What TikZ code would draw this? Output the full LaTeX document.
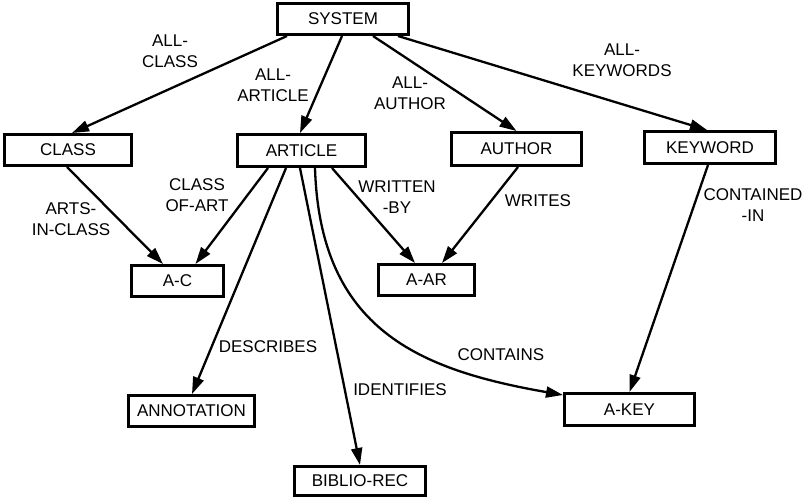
\documentclass[tikz,border=0pt]{standalone}
\usepackage{fontspec}
\setmainfont{Liberation Sans}
\usetikzlibrary{arrows.meta}
\begin{document}
\begin{tikzpicture}[x=1pt,y=-1pt,
  box/.style={draw,line width=3pt,inner sep=0pt,font=\fontsize{17}{21}\selectfont},
  lbl/.style={align=center,inner sep=0pt,font=\fontsize{17}{21}\selectfont},
  edge/.style={line width=2.3pt,-{Triangle[length=17pt,width=11pt]}}]
\useasboundingbox (0,0) rectangle (806,498);
% boxes
\node[box,minimum width=131pt,minimum height=31pt] (sys) at (343,19) {SYSTEM};
\node[box,minimum width=127pt,minimum height=31pt] (class) at (68,150) {CLASS};
\node[box,minimum width=128pt,minimum height=32pt] (article) at (301.5,150.5) {ARTICLE};
\node[box,minimum width=130pt,minimum height=33pt] (author) at (516.5,149) {AUTHOR};
\node[box,minimum width=131pt,minimum height=32pt] (keyword) at (710,147.5) {KEYWORD};
\node[box,minimum width=92pt,minimum height=31pt] (ac) at (177.5,281) {A-C};
\node[box,minimum width=96pt,minimum height=31pt] (aar) at (426.5,280) {A-AR};
\node[box,minimum width=126pt,minimum height=31pt] (annot) at (191.5,411) {ANNOTATION};
\node[box,minimum width=131pt,minimum height=29pt] (biblio) at (360,481) {BIBLIO-REC};
\node[box,minimum width=130pt,minimum height=32pt] (akey) at (629.5,409.5) {A-KEY};
% labels
\node[lbl] (lallclass) at (170,51.5) {ALL-\\CLASS};
\node[lbl] (lallarticle) at (273,85) {ALL-\\ARTICLE};
\node[lbl] (lallauthor) at (410,93.5) {ALL-\\AUTHOR};
\node[lbl] (lallkeywords) at (622,60) {ALL-\\KEYWORDS};
\node[lbl] (lclassofart) at (197,195.5) {CLASS\\OF-ART};
\node[lbl] (lartsinclass) at (71,219.5) {ARTS-\\IN-CLASS};
\node[lbl] (lwrittenby) at (397,197.5) {WRITTEN\\-BY};
\node[lbl] (lwrites) at (538,200.5) {WRITES};
\node[lbl] (lcontainedin) at (753,205.5) {CONTAINED\\-IN};
\node[lbl] (ldescribes) at (268,347) {DESCRIBES};
\node[lbl] (lidentifies) at (400,390) {IDENTIFIES};
\node[lbl] (lcontains) at (501,355) {CONTAINS};
% edges
\draw[edge] ([xshift=11pt]sys.south west) -- ([xshift=4pt]class.north);
\draw[edge] ([xshift=-1pt]sys.south) -- ([xshift=-1.5pt]article.north);
\draw[edge] ([xshift=30pt]sys.south) -- (author.north);
\draw[edge] ([xshift=-12pt]sys.south east) -- ([xshift=-3pt]keyword.north);
\draw[edge] ([xshift=-1pt]class.south) -- ([xshift=-14.5pt]ac.north);
\draw[edge] ([xshift=-33.5pt]article.south) -- ([xshift=18pt]ac.north);
\draw[edge] ([xshift=-15.5pt]article.south) -- ([xshift=0.5pt]annot.north);
\draw[edge] ([xshift=-1.5pt]article.south) -- (biblio.north);
\draw[edge] ([xshift=13.5pt]article.south) .. controls (320,330) and (420,370) .. ([yshift=14.5pt]akey.west);
\draw[edge] ([xshift=30.5pt]article.south) -- ([xshift=-11.5pt]aar.north);
\draw[edge] ([xshift=1.5pt]author.south) -- ([xshift=15.5pt]aar.north);
\draw[edge] ([xshift=-2pt]keyword.south) -- (akey.north);
\end{tikzpicture}
\end{document}
